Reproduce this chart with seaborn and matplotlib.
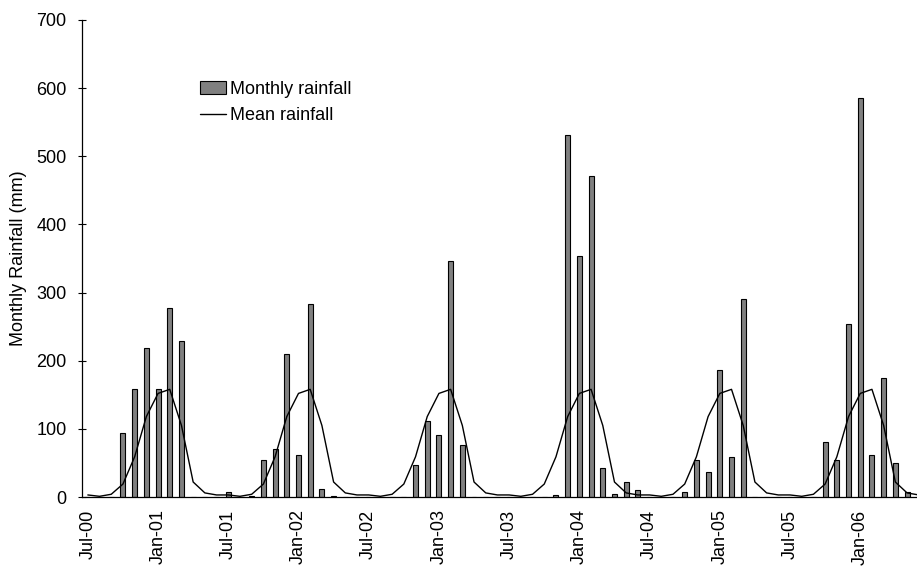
import numpy as np
import pandas as pd
import seaborn as sns
import matplotlib.pyplot as plt

# Month labels Jul-00 .. Jun-06
month_names = ['Jul', 'Aug', 'Sep', 'Oct', 'Nov', 'Dec',
               'Jan', 'Feb', 'Mar', 'Apr', 'May', 'Jun']
season_years = ['00', '01', '02', '03', '04', '05']

# Monthly rainfall (mm), one list per Jul-Jun season
rain_2000_01 = [0, 0, 0, 94, 158, 218, 158, 277, 229, 0, 0, 0]
rain_2001_02 = [7, 0, 2, 54, 70, 210, 61, 283, 12, 2, 0, 0]
rain_2002_03 = [0, 0, 0, 0, 47, 111, 91, 347, 77, 0, 0, 0]
rain_2003_04 = [0, 0, 0, 0, 3, 531, 353, 471, 42, 4, 22, 10]
rain_2004_05 = [0, 0, 0, 8, 55, 36, 186, 59, 290, 0, 0, 0]
rain_2005_06 = [0, 0, 0, 80, 55, 254, 585, 62, 175, 50, 7, 0]

# Long-term mean monthly rainfall (mm), Jul .. Jun
mean_rain = [3, 1, 4, 19, 59, 118, 152, 158, 105, 22, 6, 3]

labels = []
for yy in season_years:
    nxt = f"{int(yy) + 1:02d}"
    for k, m in enumerate(month_names):
        labels.append(f"{m}-{yy if k < 6 else nxt}")

monthly = (rain_2000_01 + rain_2001_02 + rain_2002_03 +
           rain_2003_04 + rain_2004_05 + rain_2005_06)
df = pd.DataFrame({
    'month': labels,
    'rain': monthly,
    'mean': mean_rain * len(season_years),
})
df['pos'] = np.arange(len(df))

sns.set_style('white')
plt.rcParams['font.family'] = ['Liberation Sans', 'DejaVu Sans']
plt.rcParams['text.color'] = 'black'
plt.rcParams['axes.labelcolor'] = 'black'
plt.rcParams['xtick.color'] = 'black'
plt.rcParams['ytick.color'] = 'black'
fs = 13

fig = plt.figure(figsize=(9.17, 5.68), dpi=100)
ax = fig.add_axes([0.0894, 0.125, 0.9106, 0.8398])

sns.barplot(data=df, x='month', y='rain', order=labels, ax=ax,
            color='#808080', saturation=1, width=0.42,
            edgecolor='black', linewidth=0.8, label='Monthly rainfall')
sns.lineplot(data=df, x='pos', y='mean', ax=ax, color='black',
             linewidth=1.0, label='Mean rainfall')

ax.set_xlim(-0.5, 70.85)
ax.set_ylim(0, 700)
ax.set_yticks(range(0, 701, 100))
ax.set_xticks(df['pos'][::6])
ax.set_xticklabels(df['month'][::6], rotation=90, fontsize=fs)
ax.tick_params(axis='y', labelsize=fs, direction='inout', length=6,
               width=0.8, left=True, pad=8)
ax.tick_params(axis='x', length=0, pad=9)
ax.set_xlabel('')
ax.set_ylabel('Monthly Rainfall (mm)', fontsize=fs)
ax.yaxis.set_label_coords(-0.066, 0.5)

for side in ['top', 'right']:
    ax.spines[side].set_visible(False)
for side in ['left', 'bottom']:
    ax.spines[side].set_color('black')
    ax.spines[side].set_linewidth(0.9)

# bars first, then the mean line
handles, names = ax.get_legend_handles_labels()
order = [names.index('Monthly rainfall'), names.index('Mean rainfall')]
ax.legend([handles[i] for i in order], [names[i] for i in order],
          loc='upper left', bbox_to_anchor=(0.141, 0.872), frameon=False,
          fontsize=fs, handlelength=1.45, handletextpad=0.2,
          labelspacing=0.5, borderaxespad=0, borderpad=0)

fig.savefig('out.png', dpi=100)
